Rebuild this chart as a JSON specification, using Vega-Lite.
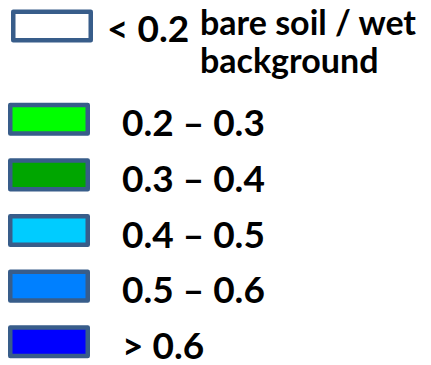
{
  "$schema": "https://vega.github.io/schema/vega-lite/v6.json",
  "background": "white",
  "padding": 0,
  "bounds": "flush",
  "spacing": 45,
  "datasets": {
    "classes": [
      {"cls": "< 0.2", "desc": "bare soil / wet\nbackground"},
      {"cls": "0.2 – 0.3", "desc": ""},
      {"cls": "0.3 – 0.4", "desc": ""},
      {"cls": "0.4 – 0.5", "desc": ""},
      {"cls": "0.5 – 0.6", "desc": ""},
      {"cls": "> 0.6", "desc": ""}
    ]
  },
  "config": {
    "view": {"stroke": null},
    "text": {"font": "Lato", "fontWeight": "bold", "color": "black"}
  },
  "vconcat": [
    {
      "width": 431,
      "height": 52,
      "data": {"name": "classes"},
      "transform": [{"filter": "datum.cls === '< 0.2'"}],
      "encoding": {
        "y": {"field": "cls", "type": "nominal", "scale": {"type": "point"}, "axis": null}
      },
      "layer": [
        {
          "mark": {"type": "point", "shape": "M-1,-0.368H1V0.368H-1Z", "size": 6006, "filled": true, "opacity": 1, "stroke": "#385D8A", "strokeWidth": 4.5, "strokeJoin": "round"},
          "encoding": {
            "x": {"datum": "swatch", "type": "nominal", "scale": {"type": "point", "domain": ["swatch", "range", "desc"], "padding": 0, "range": [52, 200]}, "axis": null},
            "fill": {"field": "cls", "type": "nominal", "legend": null,
              "scale": {"domain": ["< 0.2", "0.2 – 0.3", "0.3 – 0.4", "0.4 – 0.5", "0.5 – 0.6", "> 0.6"],
                        "range": ["#FFFFFF", "#00FF00", "#00A600", "#00CCFF", "#0080FF", "#0000FF"]}}
          }
        },
        {
          "mark": {"type": "text", "align": "left", "baseline": "alphabetic", "dx": -19, "dy": 16, "fontSize": 37},
          "encoding": {
            "x": {"datum": "range", "type": "nominal", "scale": {"type": "point", "domain": ["swatch", "range", "desc"], "padding": 0, "range": [52, 200]}, "axis": null},
            "text": {"field": "cls", "type": "nominal"}
          }
        },
        {
          "mark": {"type": "text", "align": "left", "baseline": "alphabetic", "dy": 9, "fontSize": 34, "lineBreak": "\n", "lineHeight": 38},
          "encoding": {
            "x": {"datum": "desc", "type": "nominal", "scale": {"type": "point", "domain": ["swatch", "range", "desc"], "padding": 0, "range": [52, 200]}, "axis": null},
            "text": {"field": "desc", "type": "nominal"}
          }
        }
      ]
    },
    {
      "width": 431,
      "height": 267,
      "data": {"name": "classes"},
      "transform": [{"filter": "datum.cls !== '< 0.2'"}],
      "encoding": {
        "y": {"field": "cls", "type": "nominal", "sort": null, "scale": {"type": "point", "padding": 0.4, "domain": ["0.2 – 0.3", "0.3 – 0.4", "0.4 – 0.5", "0.5 – 0.6", "> 0.6"]}, "axis": null}
      },
      "layer": [
        {
          "mark": {"type": "point", "shape": "M-1,-0.368H1V0.368H-1Z", "size": 6006, "filled": true, "opacity": 1, "stroke": "#385D8A", "strokeWidth": 4.5, "strokeJoin": "round"},
          "encoding": {
            "x": {"datum": "swatch", "type": "nominal", "scale": {"type": "point", "domain": ["swatch", "range"], "padding": 0, "range": [49, 122]}, "axis": null},
            "fill": {"field": "cls", "type": "nominal", "legend": null,
              "scale": {"domain": ["< 0.2", "0.2 – 0.3", "0.3 – 0.4", "0.4 – 0.5", "0.5 – 0.6", "> 0.6"],
                        "range": ["#FFFFFF", "#00FF00", "#00A600", "#00CCFF", "#0080FF", "#0000FF"]}}
          }
        },
        {
          "mark": {"type": "text", "align": "left", "baseline": "alphabetic", "dy": 17, "fontSize": 37},
          "encoding": {
            "x": {"datum": "range", "type": "nominal", "scale": {"type": "point", "domain": ["swatch", "range"], "padding": 0, "range": [49, 122]}, "axis": null},
            "text": {"field": "cls", "type": "nominal"}
          }
        }
      ]
    }
  ]
}
